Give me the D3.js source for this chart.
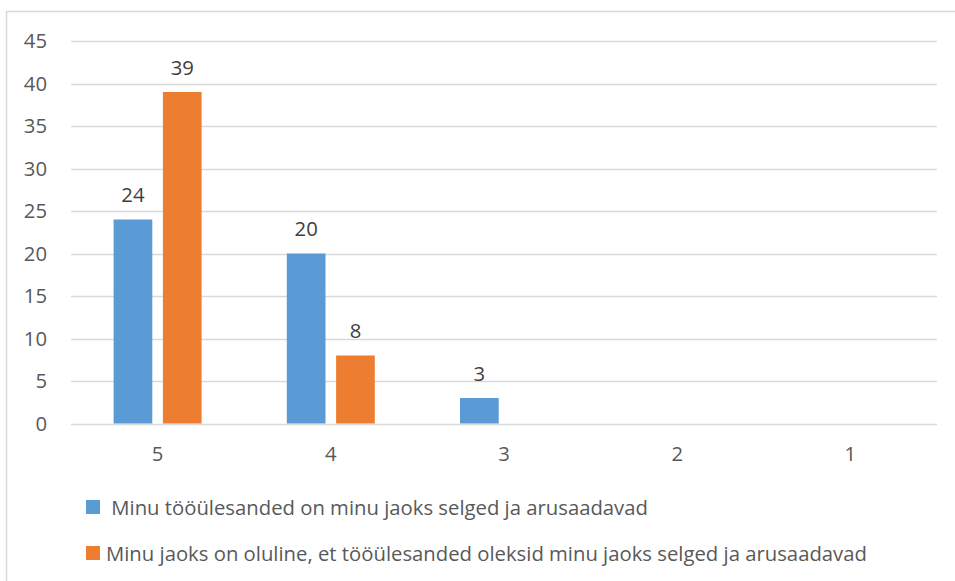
<!DOCTYPE html>
<html>
<head>
<meta charset="utf-8">
<script src="https://cdn.jsdelivr.net/npm/d3@7"></script>
<style>
  html, body { margin: 0; padding: 0; background: #fff; }
  svg { display: block; }
  text { font-family: "Open Sans", Lato, sans-serif; }
</style>
</head>
<body>
<svg id="chart" width="955" height="581"></svg>
<script>
const categories = ["5", "4", "3", "2", "1"];
const seriesNames = [
  " Minu tööülesanded on minu jaoks selged ja arusaadavad",
  "Minu jaoks on oluline, et tööülesanded oleksid minu jaoks selged ja arusaadavad"
];
const series1 = [24, 20, 3, null, null];
const series2 = [39, 8, null, null, null];
const yTicks = [0, 5, 10, 15, 20, 25, 30, 35, 40, 45];
const colors = ["#5B9BD5", "#ED7D31"];

const svg = d3.select("#chart");
const fontSize = 20.3;
const ff = "'Open Sans', Lato, sans-serif";

// outer frame (cropped on right and bottom)
svg.append("rect")
  .attr("x", 6.5).attr("y", 11.5)
  .attr("width", 1000).attr("height", 700)
  .attr("fill", "none").attr("stroke", "#d9d9d9").attr("stroke-width", 1.5);

const plot = { left: 71, right: 937, top: 41, bottom: 423.5 };

const x = d3.scaleBand().domain(categories)
  .range([plot.left, plot.right]).paddingInner(0.492).paddingOuter(0.246);
const xInner = d3.scaleBand().domain([0, 1])
  .range([0, x.bandwidth()]).paddingInner(0.215).paddingOuter(0);
const y = d3.scaleLinear().domain([0, 45]).range([plot.bottom, plot.top]);

// gridlines
svg.append("g").selectAll("line").data(yTicks).join("line")
  .attr("x1", plot.left).attr("x2", plot.right)
  .attr("y1", d => Math.round(y(d)) + 0.5).attr("y2", d => Math.round(y(d)) + 0.5)
  .attr("stroke", "#d9d9d9").attr("stroke-width", 1.3);

// y axis labels
const yAxis = d3.axisLeft(y).tickValues(yTicks).tickSize(0).tickPadding(0);
const gy = svg.append("g").attr("transform", `translate(47,0)`).call(yAxis);
gy.select(".domain").remove();
gy.selectAll("text").attr("font-size", fontSize).attr("fill", "#595959")
  .attr("font-family", ff);

// x axis labels
const xAxis = d3.axisBottom(x).tickSize(0).tickPadding(0);
const gx = svg.append("g").attr("transform", `translate(0,447)`).call(xAxis);
gx.select(".domain").remove();
gx.selectAll("text").attr("font-size", fontSize).attr("fill", "#595959")
  .attr("font-family", ff);

// bars
const data = categories.map((c, i) => ({ c, vals: [series1[i], series2[i]] }));
const groups = svg.append("g").selectAll("g").data(data).join("g")
  .attr("transform", d => `translate(${x(d.c)},0)`);

groups.selectAll("rect")
  .data(d => d.vals.map((v, k) => ({ v, k })).filter(e => e.v != null))
  .join("rect")
  .attr("x", e => xInner(e.k))
  .attr("width", xInner.bandwidth())
  .attr("y", e => y(e.v))
  .attr("height", e => y(0) - y(e.v))
  .attr("fill", e => colors[e.k]);

groups.selectAll("text.lbl")
  .data(d => d.vals.map((v, k) => ({ v, k })).filter(e => e.v != null))
  .join("text").attr("class", "lbl")
  .attr("x", e => xInner(e.k) + xInner.bandwidth() / 2)
  .attr("y", e => y(e.v) - 17.5)
  .attr("text-anchor", "middle")
  .attr("font-size", fontSize).attr("fill", "#404040")
  .text(e => e.v);

// legend
const legend = svg.append("g");
const legendY = [507, 553];
seriesNames.forEach((name, i) => {
  legend.append("rect")
    .attr("x", 86).attr("y", legendY[i] - 7)
    .attr("width", 14).attr("height", 14)
    .attr("fill", colors[i]);
  legend.append("text")
    .attr("x", 106).attr("y", legendY[i] + 7.5)
    .attr("font-size", fontSize).attr("fill", "#595959")
    .attr("xml:space", "preserve")
    .style("white-space", "pre")
    .text(name);
});
</script>
</body>
</html>
